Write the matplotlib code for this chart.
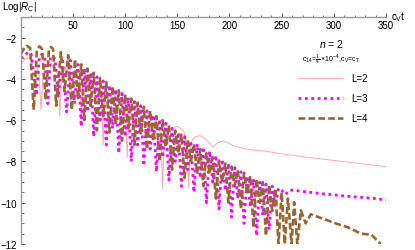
import numpy as np
import matplotlib.pyplot as plt

plt.rcParams['font.family'] = ['Liberation Sans', 'DejaVu Sans']
plt.rcParams['mathtext.fontset'] = 'custom'
plt.rcParams['mathtext.rm'] = 'Liberation Sans'
plt.rcParams['mathtext.it'] = 'Liberation Sans:italic'

########################## data ##########################

# L=2 (thin pink line)
l2_t = [0, 4, 8.5, 13, 17.5, 19.5, 21.5, 27, 32, 36, 37.5, 39, 43, 46.5, 48, 49.5, 53, 56.5, 58, 59.5,
        64, 69, 74, 77.5, 79, 80.5, 86, 91, 96, 100.5, 102, 103.5, 109, 115, 121, 127, 132, 134.5, 136, 137.5,
        143, 150, 156, 159.5, 161, 162.5, 167, 172, 178, 184, 189, 194, 199, 204, 212, 220, 235, 250, 275, 300,
        325, 350]
l2_v = [-3.3, -3.05, -2.96, -3.1, -3.7, -5.5, -3.7, -3.2, -3.3, -3.9, -5.8, -3.9, -3.45, -3.8, -5.3, -3.8, -3.7, -4.1, -5.9, -4.1,
        -3.95, -4.1, -4.5, -5.0, -7.2, -5.0, -4.7, -4.85, -5.2, -5.8, -7.8, -5.8, -5.35, -5.5, -5.65, -5.85, -6.2, -6.8, -9.3, -6.8,
        -6.4, -6.3, -6.5, -7.1, -9.3, -7.1, -6.8, -6.75, -6.95, -7.3, -7.1, -7.0, -7.1, -7.24, -7.35, -7.43, -7.5, -7.63, -7.8, -7.95,
        -8.1, -8.25]

# L=3 (magenta dotted) : upper points and dips
l3_env_t = [0, 4, 7, 10, 18, 20.5, 23, 28.5, 31, 33, 40, 47.5,
            55, 61, 67, 73, 79, 85, 91, 97, 103, 109, 115, 121, 127, 133, 139, 145, 151, 157, 163, 169,
            175, 181, 187, 193, 199, 205, 211, 217, 223, 229, 235, 241, 247,
            250, 258, 265, 278, 290, 304, 316, 329, 340, 350]
l3_env_v = [-3.0, -2.85, -2.7, -2.8, -2.9, -2.8, -2.95, -2.95, -2.9, -3.05, -3.0, -3.1,
            -3.3, -3.5, -3.7, -3.9, -4.1, -4.3, -4.5, -4.7, -4.9, -5.1, -5.3, -5.55, -5.75, -5.95, -6.15, -6.4, -6.6, -6.8, -7.0, -7.15,
            -7.3, -7.5, -7.7, -7.9, -8.1, -8.3, -8.5, -8.7, -8.85, -9.0, -9.1, -9.2, -9.3,
            -9.4, -9.38, -9.42, -9.5, -9.57, -9.64, -9.7, -9.75, -9.8, -9.87]
l3_dip_t = [15, 26, 36, 44, 51.5,
            58, 64, 70, 76, 82, 88, 94, 100, 106, 112, 118, 124, 130, 136, 142, 148,
            154, 160, 166, 172, 178, 184, 190, 196, 202, 208, 214, 220, 226, 232, 238, 244,
            253.5]
l3_dip_v = [-4.8, -5.2, -4.9, -5.6, -5.2,
            -6.3, -5.6, -6.8, -6.0, -7.2, -6.4, -7.6, -6.8, -8.0, -7.2, -8.2, -7.4, -8.5, -7.8, -8.9, -8.0,
            -9.2, -8.4, -9.5, -8.8, -10.0, -9.0, -10.3, -9.4, -10.7, -9.8, -11.0, -10.2, -11.6, -10.6, -11.3, -10.2,
            -9.6]

# L=4 (brown dashed) : upper points and dips
l4_env_t = [0, 3, 6, 9, 15.5, 18, 20.5, 27, 29, 31, 38.5, 45.5,
            52, 58, 64, 70, 76, 82, 88, 94, 100, 106, 112, 118, 124, 130, 136, 142, 148, 154, 160, 166,
            172, 178, 184, 190, 196, 202, 208, 214, 220, 226, 232, 238, 244, 250, 256,
            262, 268.5, 278, 291, 304, 314, 326, 336, 345]
l4_env_v = [-2.8, -2.55, -2.4, -2.5, -2.6, -2.42, -2.55, -2.6, -2.45, -2.55, -2.7, -2.85,
            -3.05, -3.3, -3.5, -3.7, -3.95, -4.15, -4.35, -4.55, -4.75, -4.95, -5.15, -5.35, -5.55, -5.8, -6.0, -6.25, -6.5, -6.7, -6.95, -7.15,
            -7.4, -7.6, -7.8, -7.95, -8.1, -8.25, -8.4, -8.55, -8.7, -8.85, -9.0, -9.15, -9.3, -9.5, -9.8,
            -9.98, -10.37, -10.56, -10.8, -11.04, -11.2, -11.5, -11.55, -12.0]
l4_dip_t = [12.5, 24, 34, 42, 49,
            55, 61, 67, 73, 79, 85, 91, 97, 103, 109, 115, 121, 127, 133, 139, 145,
            151, 157, 163, 169, 175, 181, 187, 193, 199, 205, 211, 217, 223, 229, 235, 241, 247, 253,
            259.5, 265, 273]
l4_dip_v = [-5.5, -5.0, -5.3, -4.6, -5.5,
            -5.0, -6.0, -5.3, -6.5, -5.8, -6.6, -6.2, -7.0, -6.4, -7.2, -6.7, -7.4, -7.0, -8.0, -7.3, -8.4,
            -7.6, -8.8, -8.0, -8.6, -9.2, -8.6, -9.8, -9.0, -10.0, -9.2, -10.3, -9.6, -11.2, -10.0, -11.6, -10.4, -12.0, -12.0,
            -12.0, -12.0, -11.0]

x_ticks = [50, 100, 150, 200, 250, 300, 350]
y_ticks = [-2, -4, -6, -8, -10, -12]


def merge(env_t, env_v, dip_t, dip_v):  # put upper points and dips in time order
    t = np.array(env_t + dip_t)
    v = np.array(env_v + dip_v)
    order = np.argsort(t)
    return t[order], v[order]


t3, v3 = merge(l3_env_t, l3_env_v, l3_dip_t, l3_dip_v)
t4, v4 = merge(l4_env_t, l4_env_v, l4_dip_t, l4_dip_v)

########################## figure ##########################

W, H = 415, 251
fig = plt.figure(figsize=(W / 100, H / 100), dpi=100)
ax = fig.add_axes([20.7 / W, 6 / H, (386 - 20.7) / W, (245 - 18) / H])

ax.plot(l2_t, l2_v, color='#ffaaaa', lw=0.7, label='L=2')
ax.plot(t3, v3, color='#ff00ff', lw=2.0, ls=(0, (1.0, 1.3)), label='L=3')
ax.plot(t4, v4, color='#996633', lw=1.9, ls=(0, (2.6, 1.15)), label='L=4')

ax.set_xlim(0, 350)
ax.set_ylim(-12, -1)

# Mathematica style axes: x axis at the top, y axis on the left
for s in ['top', 'right']:
    ax.spines[s].set_visible(False)
ax.spines['bottom'].set_position(('axes', 1.0))
for s in ['bottom', 'left']:
    ax.spines[s].set_color('#9a9a9a')
    ax.spines[s].set_linewidth(1.0)

ax.set_xticks(x_ticks)
ax.set_xticks(np.arange(10, 351, 10), minor=True)
ax.set_yticks(y_ticks)
ax.set_yticks(np.arange(-12, -1, 0.5), minor=True)
ax.tick_params(axis='both', which='major', direction='in', length=3.2, width=0.6, color='#444444', labelsize=7)
ax.tick_params(axis='both', which='minor', direction='in', length=1.8, width=0.5, color='#444444')
ax.tick_params(axis='x', pad=2)
ax.tick_params(axis='y', pad=3)

fig.text(2 / W, 1 - 10 / H, r'Log$|R_C|$', fontsize=7, va='baseline')
fig.text(391 / W, 1 - 17 / H, r'c$_\mathrm{V}$t', fontsize=7, va='center')

# legend with its heading
fig.text(331 / W, 1 - 43.5 / H, r'$n$ = 2', fontsize=7.5, ha='center', va='center')
fig.text(331 / W, 1 - 60 / H, r'c$_{14}$=$\frac{1}{4}$ $\times$10$^{-4}$,c$_\mathrm{V}$=c$_\mathrm{T}$',
         fontsize=5, ha='center', va='center')
ax.legend(loc='upper left', bbox_to_anchor=(298 / W, 1 - 74 / H), bbox_transform=fig.transFigure,
          frameon=False, fontsize=7, handlelength=4.6, handletextpad=0.9, labelspacing=1.05,
          borderpad=0, borderaxespad=0)

fig.savefig('out.png', dpi=100)
